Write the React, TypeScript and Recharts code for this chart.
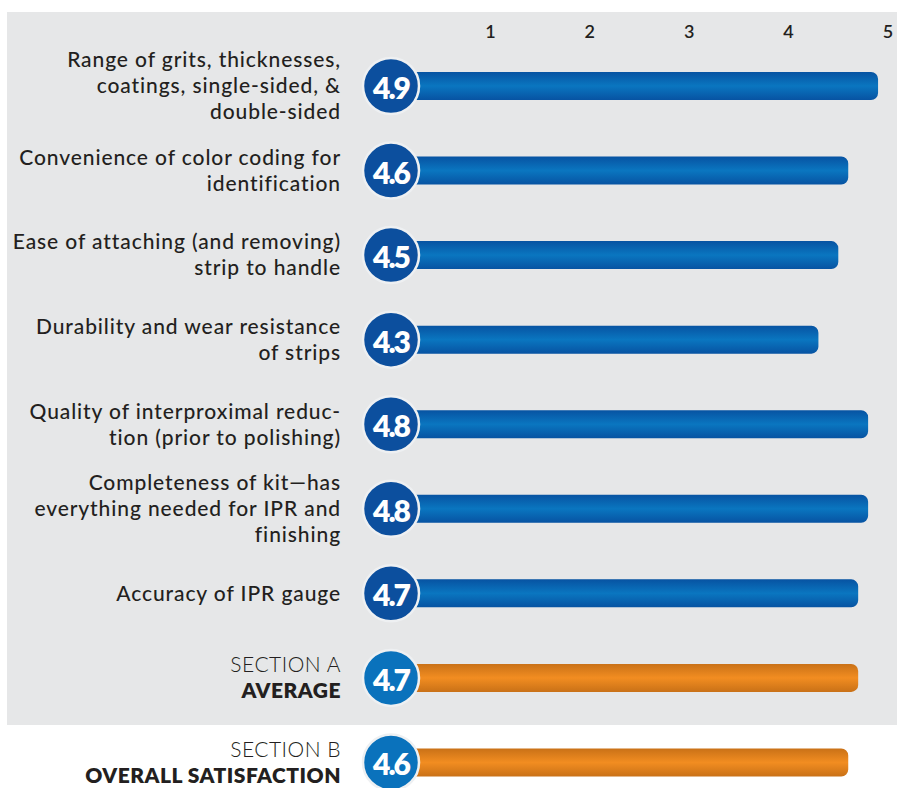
import React from 'react';
import { BarChart, Bar, XAxis, YAxis, Rectangle } from 'recharts';

const categories = [
  'Range of grits, thicknesses,\ncoatings, single-sided, &\ndouble-sided',
  'Convenience of color coding for\nidentification',
  'Ease of attaching (and removing)\nstrip to handle',
  'Durability and wear resistance\nof strips',
  'Quality of interproximal reduc-\ntion (prior to polishing)',
  'Completeness of kit\u2014has\neverything needed for IPR and\nfinishing',
  'Accuracy of IPR gauge',
  'SECTION A\nAVERAGE',
  'SECTION B\nOVERALL SATISFACTION',
];
const scores = [4.9, 4.6, 4.5, 4.3, 4.8, 4.8, 4.7, 4.7, 4.6];
const isSummary = [false, false, false, false, false, false, false, true, true];
const scaleTicks = [1, 2, 3, 4, 5];

const data = categories.map((label, i) => ({
  label,
  score: scores[i],
  summary: isSummary[i],
}));

const FONT = 'Lato, "Open Sans", sans-serif';
const TEXT = '#231f20';

const CategoryTick = (props: any) => {
  const { x, y, payload, index } = props;
  const lines: string[] = String(payload.value).split('\n');
  const lh = 26;
  const start = y - 2 - ((lines.length - 1) * lh) / 2;
  const summary = isSummary[index];
  return (
    <text
      x={x - 50}
      y={start}
      textAnchor="end"
      dominantBaseline="central"
      fontFamily={FONT}
      fontSize={21}
      letterSpacing={summary ? 0.5 : 0.9}
      fill={TEXT}
    >
      {lines.map((ln, i) => (
        <tspan
          key={i}
          x={x - 50}
          y={start + i * lh}
          fontWeight={summary ? (i === 0 ? 300 : 800) : 500}
        >
          {ln}
        </tspan>
      ))}
    </text>
  );
};

const ScoreBar = (props: any) => {
  const { x, y, width, height, payload } = props;
  const cy = y + height / 2;
  const summary = payload.summary;
  return (
    <g>
      <Rectangle
        x={x}
        y={y}
        width={width}
        height={height}
        radius={[0, 7, 7, 0]}
        fill={summary ? 'url(#gradOrange)' : 'url(#gradBlue)'}
      />
      <circle
        cx={x}
        cy={cy}
        r={28}
        fill={summary ? '#0a72bc' : '#0c4f9e'}
        stroke="#eef0f2"
        strokeWidth={2.5}
      />
      <text
        x={x}
        y={cy + 1}
        textAnchor="middle"
        dominantBaseline="central"
        fontFamily={FONT}
        fontWeight={800}
        fontSize={30}
        letterSpacing={-2}
        fill="#ffffff"
      >
        {payload.score.toFixed(1)}
      </text>
    </g>
  );
};

export default function App() {
  return (
    <div
      style={{
        position: 'absolute',
        left: 0,
        top: 0,
        width: 897,
        height: 788,
        overflow: 'hidden',
        background: '#ffffff',
      }}
    >
      <div
        style={{
          position: 'absolute',
          left: 7,
          top: 12,
          width: 890,
          height: 713,
          background: '#e6e7e8',
        }}
      />
      <div style={{ position: 'absolute', left: 0, top: 0 }}>
        <BarChart
          width={897}
          height={830}
          data={data}
          layout="vertical"
          margin={{ top: 0, right: 9, bottom: 25, left: 0 }}
          barSize={28}
        >
          <defs>
            <linearGradient id="gradBlue" x1="0" y1="0" x2="0" y2="1">
              <stop offset="0%" stopColor="#0753a2" />
              <stop offset="50%" stopColor="#0a76c0" />
              <stop offset="100%" stopColor="#0753a2" />
            </linearGradient>
            <linearGradient id="gradOrange" x1="0" y1="0" x2="0" y2="1">
              <stop offset="0%" stopColor="#c97117" />
              <stop offset="50%" stopColor="#f28d21" />
              <stop offset="100%" stopColor="#c97117" />
            </linearGradient>
          </defs>
          <XAxis
            type="number"
            orientation="top"
            domain={[0, 5]}
            ticks={scaleTicks}
            axisLine={false}
            tickLine={false}
            height={44}
            tickMargin={0}
            tick={{ fontFamily: FONT, fontSize: 18, fontWeight: 600, fill: TEXT }}
          />
          <YAxis
            type="category"
            dataKey="label"
            width={391}
            axisLine={false}
            tickLine={false}
            tickSize={0}
            tickMargin={0}
            interval={0}
            tick={<CategoryTick />}
          />
          <Bar dataKey="score" isAnimationActive={false} shape={<ScoreBar />} />
        </BarChart>
      </div>
    </div>
  );
}
